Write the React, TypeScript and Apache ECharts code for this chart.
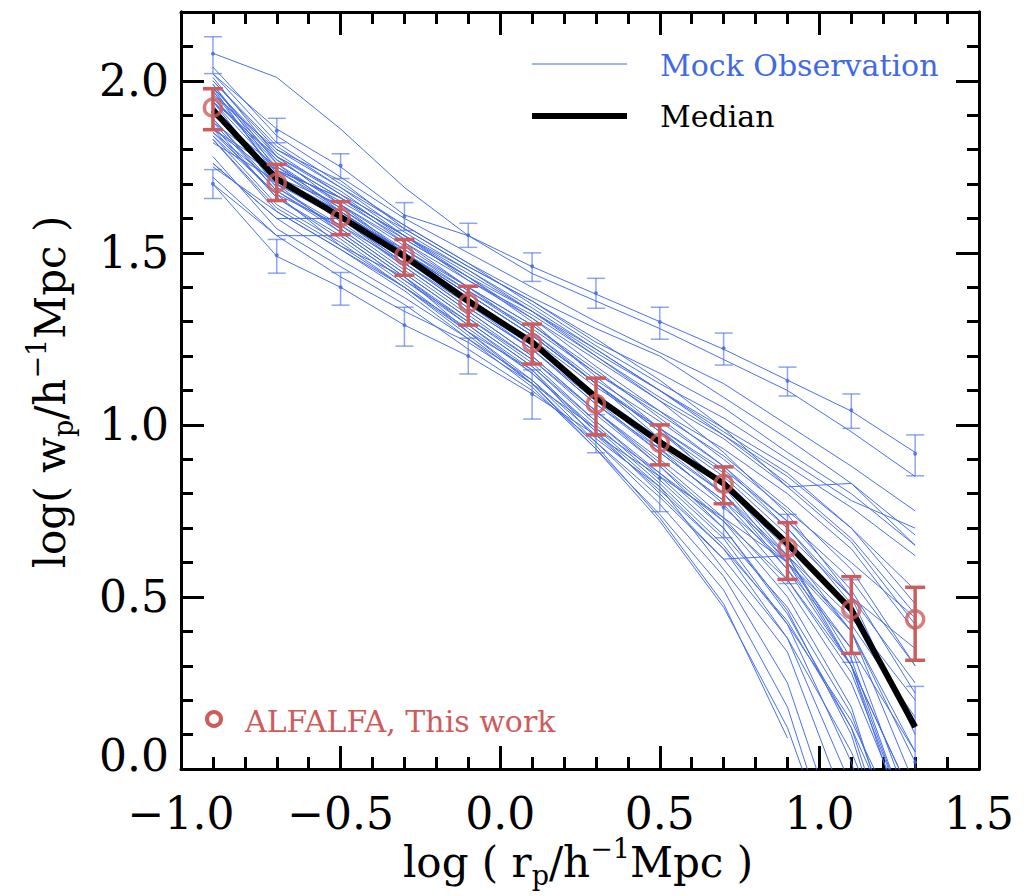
import React, { useEffect, useRef } from "react";
import * as echarts from "echarts";

// ---------- data ----------
const logRp = [-0.9, -0.7, -0.5, -0.3, -0.1, 0.1, 0.3, 0.5, 0.7, 0.9, 1.1, 1.3];

const xTickValues = [-1.0, -0.5, 0.0, 0.5, 1.0, 1.5];
const yTickValues = [0.0, 0.5, 1.0, 1.5, 2.0];

const medianWp = [1.915, 1.715, 1.605, 1.49, 1.36, 1.24, 1.08, 0.95, 0.83, 0.655, 0.463, 0.122];

const alfalfaWp = [1.922, 1.704, 1.603, 1.493, 1.354, 1.238, 1.061, 0.948, 0.829, 0.643, 0.464, 0.435];
const alfalfaLo = [1.858, 1.652, 1.553, 1.435, 1.29, 1.177, 0.971, 0.884, 0.771, 0.551, 0.336, 0.316];
const alfalfaHi = [1.977, 1.757, 1.649, 1.539, 1.403, 1.293, 1.136, 1.0, 0.878, 0.716, 0.559, 0.528];

const mockUpperWp = [2.079, 1.855, 1.754, 1.606, 1.551, 1.461, 1.383, 1.299, 1.223, 1.128, 1.043, 0.916];
const mockUpperLo = [2.021, 1.82, 1.716, 1.565, 1.516, 1.417, 1.339, 1.249, 1.174, 1.084, 0.99, 0.852];
const mockUpperHi = [2.128, 1.891, 1.788, 1.646, 1.586, 1.5, 1.426, 1.342, 1.267, 1.168, 1.09, 0.971];

const mockLowerWp = [1.701, 1.493, 1.4, 1.29, 1.2, 1.09, 0.97, 0.846, 0.76, 0.64, 0.43, 0.02];
const mockLowerLo = [1.658, 1.441, 1.348, 1.229, 1.148, 1.017, 0.919, 0.748, 0.672, 0.539, 0.31, -0.2];
const mockLowerHi = [1.742, 1.539, 1.443, 1.342, 1.252, 1.16, 1.03, 0.94, 0.85, 0.74, 0.55, 0.24];

const mockObservations: (number | null)[][] = [
  [2.08, 2.01, 1.86, 1.69, 1.55, 1.44, 1.36, 1.28, 1.19, 1.10, 0.98, 0.85],
  [2.02, 1.86, 1.75, 1.61, 1.55, 1.46, 1.38, 1.30, 1.22, 1.13, 1.04, 0.92],
  [2.04, 1.84, 1.72, 1.60, 1.50, 1.40, 1.30, 1.21, 1.12, 1.00, 0.88, 0.75],
  [2.02, 1.82, 1.70, 1.58, 1.47, 1.37, 1.28, 1.20, 1.08, 0.96, 0.83, 0.68],
  [2.00, 1.80, 1.71, 1.57, 1.46, 1.36, 1.24, 1.15, 1.05, 0.92, 0.80, 0.65],
  [1.99, 1.74, 1.62, 1.50, 1.39, 1.28, 1.15, 1.04, 0.93, 0.80, 0.64, 0.40],
  [1.98, 1.78, 1.67, 1.54, 1.43, 1.33, 1.21, 1.10, 0.98, 0.86, 0.70, 0.48],
  [1.97, 1.77, 1.66, 1.55, 1.42, 1.31, 1.19, 1.07, 0.96, 0.82, 0.66, 0.42],
  [1.86, 1.74, 1.66, 1.55, 1.45, 1.34, 1.22, 1.10, 0.97, 0.83, 0.67, 0.45],
  [1.95, 1.76, 1.64, 1.52, 1.40, 1.29, 1.15, 1.03, 0.91, 0.76, 0.58, 0.30],
  [1.95, 1.75, 1.63, 1.51, 1.39, 1.27, 1.13, 1.01, 0.88, 0.72, 0.52, 0.22],
  [1.94, 1.74, 1.63, 1.50, 1.38, 1.26, 1.12, 0.99, 0.86, 0.70, 0.48, 0.12],
  [1.98, 1.72, 1.60, 1.47, 1.34, 1.22, 1.06, 0.93, 0.80, 0.62, 0.40, 0.02],
  [1.92, 1.72, 1.61, 1.49, 1.36, 1.24, 1.09, 0.96, 0.82, 0.64, 0.40, -0.05],
  [1.92, 1.71, 1.60, 1.48, 1.35, 1.23, 1.08, 0.94, 0.80, 0.60, 0.35, -0.15],
  [1.91, 1.70, 1.60, 1.47, 1.34, 1.22, 1.06, 0.92, 0.78, 0.58, 0.30, -0.25],
  [1.82, 1.71, 1.62, 1.50, 1.38, 1.26, 1.12, 0.98, 0.83, 0.62, 0.32, -0.20],
  [1.89, 1.69, 1.58, 1.45, 1.32, 1.19, 1.03, 0.88, 0.72, 0.50, 0.18, -0.40],
  [1.88, 1.68, 1.57, 1.44, 1.31, 1.18, 1.01, 0.86, 0.70, 0.46, 0.10, -0.50],
  [1.94, 1.70, 1.56, 1.43, 1.30, 1.17, 1.00, 0.84, 0.67, 0.42, 0.02, -0.60],
  [1.86, 1.66, 1.55, 1.42, 1.29, 1.16, 0.98, 0.82, 0.64, 0.38, -0.05, -0.70],
  [1.85, 1.67, 1.52, 1.43, 1.27, 1.16, 0.96, 0.82, 0.58, 0.34, -0.15, -0.80],
  [1.84, 1.64, 1.53, 1.40, 1.27, 1.13, 0.95, 0.77, 0.56, 0.25, -0.30, -1.00],
  [1.83, 1.62, 1.51, 1.39, 1.25, 1.11, 0.93, 0.74, 0.52, 0.18, -0.40, -1.00],
  [1.99, 1.76, 1.62, 1.49, 1.36, 1.25, 1.11, 0.99, 0.87, 0.72, 0.55, 0.30],
  [1.88, 1.74, 1.66, 1.55, 1.44, 1.33, 1.22, 1.10, 0.99, 0.88, 0.76, 0.62],
  [1.86, 1.72, 1.64, 1.53, 1.42, 1.32, 1.20, 1.08, 0.97, 0.85, 0.70, 0.52],
  [2.01, 1.78, 1.64, 1.50, 1.37, 1.24, 1.08, 0.93, 0.77, 0.55, 0.28, -0.20],
  [1.97, 1.73, 1.59, 1.46, 1.33, 1.20, 1.04, 0.88, 0.70, 0.45, 0.12, -0.45],
  [1.90, 1.75, 1.65, 1.54, 1.43, 1.31, 1.17, 1.04, 0.90, 0.75, 0.60, 0.44],
  [1.85, 1.70, 1.61, 1.51, 1.40, 1.29, 1.16, 1.02, 0.88, 0.70, 0.50, 0.25],
  [1.93, 1.69, 1.57, 1.44, 1.31, 1.19, 1.04, 0.90, 0.76, 0.60, 0.42, 0.15],
  [1.96, 1.80, 1.69, 1.56, 1.45, 1.33, 1.20, 1.07, 0.92, 0.74, 0.50, 0.10],
  [1.94, 1.78, 1.68, 1.55, 1.43, 1.30, 1.14, 0.99, 0.82, 0.60, 0.30, -0.20],
  [1.76, 1.60, 1.60, 1.46, 1.33, 1.20, 1.04, 0.89, 0.73, 0.53, 0.25, -0.20],
  [1.72, 1.55, 1.55, 1.42, 1.30, 1.17, 1.01, 0.85, 0.68, 0.47, 0.16, -0.35],
  [1.98, 1.79, 1.67, 1.57, 1.46, 1.36, 1.25, 1.13, 0.99, 0.82, 0.83, 0.65],
  [1.89, 1.68, 1.56, 1.43, 1.29, 1.15, 0.98, 0.80, 0.61, 0.62, 0.30, -0.10],
  [1.83, 1.63, 1.52, 1.40, 1.26, 1.12, 0.94, 0.73, 0.48, 0.09, null, null],
  [1.87, 1.66, 1.54, 1.41, 1.27, 1.12, 0.93, 0.72, 0.47, 0.12, -0.40, -1.00],
  [1.91, 1.72, 1.62, 1.50, 1.38, 1.26, 1.12, 0.98, 0.85, 0.68, 0.50, 0.35],
  [1.95, 1.77, 1.66, 1.53, 1.40, 1.27, 1.12, 0.96, 0.80, 0.58, 0.35, 0.05],
  [1.84, 1.67, 1.58, 1.47, 1.35, 1.22, 1.07, 0.92, 0.78, 0.62, 0.44, 0.20],
  [2.00, 1.81, 1.69, 1.58, 1.47, 1.35, 1.23, 1.12, 1.02, 0.90, 0.78, 0.70],
  [1.70, 1.49, 1.40, 1.29, 1.20, 1.09, 0.97, 0.85, 0.73, 0.60, 0.40, 0.05],
  [1.70, 1.55, 1.43, 1.33, 1.24, 1.12, 0.99, 0.86, 0.72, 0.55, 0.30, -0.10],
  [1.78, 1.57, 1.46, 1.35, 1.22, 1.10, 0.95, 0.79, 0.61, 0.38, 0.05, -0.40],
  [1.76, 1.60, 1.48, 1.37, 1.25, 1.13, 0.97, 0.81, 0.64, 0.43, 0.12, -0.30],
  [1.75, 1.62, 1.51, 1.40, 1.28, 1.15, 0.99, 0.83, 0.65, 0.42, 0.14, -0.25],
];

// ---------- styling ----------
const FONT = "DejaVu Serif";
const BLUE = "#4169E1";
const BLUE_LINE = "rgba(65,105,225,0.95)";
const BLUE_BAR = "rgba(65,105,225,0.6)";
const RED = "#CD5C5C";

function errorBars(
  xs: number[],
  lo: number[],
  hi: number[],
  color: string,
  width: number,
  capHalf: number,
  z: number
) {
  return {
    type: "custom",
    z,
    clip: true,
    silent: true,
    data: xs.map((x, i) => [x, lo[i], hi[i]]),
    encode: { x: 0, y: [1, 2] },
    renderItem: (_params: any, api: any) => {
      const x = api.value(0);
      const top = api.coord([x, api.value(2)]);
      const bot = api.coord([x, api.value(1)]);
      const style = { stroke: color, lineWidth: width };
      return {
        type: "group",
        children: [
          { type: "line", shape: { x1: top[0], y1: top[1], x2: bot[0], y2: bot[1] }, style },
          { type: "line", shape: { x1: top[0] - capHalf, y1: top[1], x2: top[0] + capHalf, y2: top[1] }, style },
          { type: "line", shape: { x1: bot[0] - capHalf, y1: bot[1], x2: bot[0] + capHalf, y2: bot[1] }, style },
        ],
      };
    },
  };
}

const fmtX = (v: number) => (v < 0 ? "\u2212" : "") + Math.abs(v).toFixed(1);

export default function App() {
  const ref = useRef<HTMLDivElement>(null);

  useEffect(() => {
    if (!ref.current) return;
    const chart = echarts.init(ref.current, undefined, { renderer: "svg" });

    const commonAxisLine = { show: true, onZero: false, lineStyle: { color: "#000", width: 3 } };

    const xBase = {
      type: "value",
      min: xTickValues[0],
      max: xTickValues[xTickValues.length - 1],
      interval: 0.5,
      axisLine: commonAxisLine,
      axisTick: { show: true, inside: true, length: 23, lineStyle: { color: "#000", width: 3 } },
      minorTick: { show: true, splitNumber: 5, length: 12, lineStyle: { color: "#000", width: 3 } },
      splitLine: { show: false },
      minorSplitLine: { show: false },
    };

    const yMinor = {
      type: "value",
      min: 0,
      max: 2.2,
      interval: 0.1,
      axisLine: commonAxisLine,
      axisTick: { show: true, inside: true, length: 12, lineStyle: { color: "#000", width: 3 } },
      axisLabel: { show: false },
      splitLine: { show: false },
    };
    const yMajor = {
      type: "value",
      min: 0,
      max: 2.2,
      interval: 0.5,
      axisLine: commonAxisLine,
      axisTick: { show: true, inside: true, length: 23, lineStyle: { color: "#000", width: 3 } },
      splitLine: { show: false },
    };

    const series: any[] = [];
    mockObservations.forEach((line, k) => {
      series.push({
        type: "line",
        name: "Mock Observation " + k,
        data: logRp.map((x, i) => [x, line[i]]),
        showSymbol: false,
        symbol: "none",
        silent: true,
        z: 2,
        clip: true,
        lineStyle: { color: BLUE_LINE, width: 1 },
      });
    });
    series.push(errorBars(logRp, mockUpperLo, mockUpperHi, BLUE_BAR, 1.5, 9, 3));
    series.push(errorBars(logRp, mockLowerLo, mockLowerHi, BLUE_BAR, 1.5, 9, 3));
    series.push({
      type: "scatter",
      silent: true,
      z: 3,
      symbol: "circle",
      symbolSize: 4,
      itemStyle: { color: BLUE },
      data: logRp.map((x, i) => [x, mockUpperWp[i]]).concat(logRp.map((x, i) => [x, mockLowerWp[i]])),
      clip: true,
    });
    series.push({
      type: "line",
      name: "Median",
      data: logRp.map((x, i) => [x, medianWp[i]]),
      showSymbol: false,
      symbol: "none",
      z: 4,
      silent: true,
      lineStyle: { color: "#000", width: 6 },
    });
    series.push(errorBars(logRp, alfalfaLo, alfalfaHi, RED, 3.5, 10, 5));
    series.push({
      type: "scatter",
      name: "ALFALFA",
      z: 6,
      silent: true,
      symbol: "circle",
      symbolSize: 17,
      itemStyle: { color: "rgba(0,0,0,0)", borderColor: RED, borderWidth: 3.5 },
      data: logRp.map((x, i) => [x, alfalfaWp[i]]),
    });

    const titleRich = {
      a: { fontFamily: FONT, fontSize: 42, lineHeight: 54, color: "#000" },
      s: { fontFamily: FONT, fontSize: 27, lineHeight: 27, color: "#000", verticalAlign: "bottom" },
      u: { fontFamily: FONT, fontSize: 27, lineHeight: 31, color: "#000", verticalAlign: "top" },
    };

    chart.setOption({
      animation: false,
      backgroundColor: "#fff",
      grid: { left: 181, right: 51, top: 12, bottom: 127, containLabel: false },
      xAxis: [
        {
          ...xBase,
          position: "bottom",
          axisLabel: {
            show: true,
            margin: 22,
            color: "#000",
            fontFamily: FONT,
            fontSize: 44,
            formatter: (v: number) => fmtX(v),
          },
        },
        { ...xBase, position: "top", axisLabel: { show: false } },
      ],
      yAxis: [
        {
          ...yMajor,
          position: "left",
          axisLabel: {
            show: true,
            margin: 12,
            color: "#000",
            fontFamily: FONT,
            fontSize: 44,
            showMaxLabel: false,
            formatter: (v: number) => (Math.abs(v) < 1e-9 ? "{z|0.0}" : yTickValues.includes(Math.round(v * 10) / 10) ? v.toFixed(1) : ""),
            rich: {
              z: { fontFamily: FONT, fontSize: 44, color: "#000", padding: [0, 0, 28, 0] },
            },
          },
        },
        { ...yMinor, position: "left" },
        { ...yMajor, position: "right", axisLabel: { show: false } },
        { ...yMinor, position: "right" },
      ],
      series,
      graphic: [
        { type: "line", z: 10, shape: { x1: 532, y1: 64, x2: 627, y2: 64 }, style: { stroke: BLUE, lineWidth: 1 } },
        {
          type: "text",
          z: 10,
          x: 660,
          y: 65,
          style: { text: "Mock Observation", fill: BLUE, fontFamily: FONT, fontSize: 30, align: "left", verticalAlign: "middle" },
        },
        { type: "line", z: 10, shape: { x1: 532, y1: 116, x2: 627, y2: 116 }, style: { stroke: "#000", lineWidth: 6 } },
        {
          type: "text",
          z: 10,
          x: 660,
          y: 116,
          style: { text: "Median", fill: "#000", fontFamily: FONT, fontSize: 30, align: "left", verticalAlign: "middle" },
        },
        { type: "circle", z: 10, shape: { cx: 214, cy: 719, r: 7 }, style: { fill: "none", stroke: RED, lineWidth: 4 } },
        {
          type: "text",
          z: 10,
          x: 245,
          y: 721,
          style: { text: "ALFALFA, This work", fill: RED, fontFamily: FONT, fontSize: 30, align: "left", verticalAlign: "middle" },
        },
        {
          type: "text",
          z: 10,
          x: 578,
          y: 862,
          style: {
            text: "{a|log ( r}{s|p}{a|/h}{u|\u22121}{a|Mpc )}",
            rich: titleRich,
            align: "center",
            verticalAlign: "middle",
          },
        },
        {
          type: "text",
          z: 10,
          x: 50,
          y: 392,
          rotation: Math.PI / 2,
          style: {
            text: "{a|log( w}{s|p}{a|/h}{u|\u22121}{a|Mpc )}",
            rich: titleRich,
            align: "center",
            verticalAlign: "middle",
          },
        },
      ],
    });

    return () => chart.dispose();
  }, []);

  return (
    <div
      ref={ref}
      style={{ position: "fixed", left: 0, top: 0, width: 1030, height: 896, background: "#fff" }}
    />
  );
}
